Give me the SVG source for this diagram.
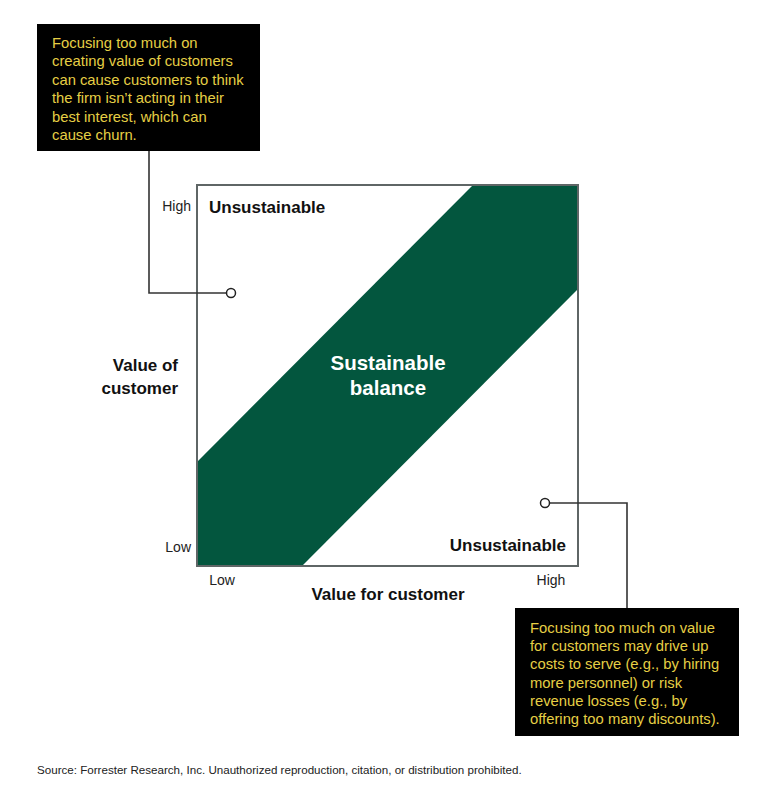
<svg xmlns="http://www.w3.org/2000/svg" width="775" height="800" viewBox="0 0 775 800">
<style>
text{font-family:"Liberation Sans",Arial,sans-serif;}
.note{fill:#E6CF45;font-size:14.8px;}
.axis{fill:#222;font-size:14px;}
.bold{fill:#111;font-weight:bold;}
.conn{fill:none;stroke:#333;stroke-width:1.6;}
.dot{fill:#fff;stroke:#222;stroke-width:1.5;}
</style>
<rect width="775" height="800" fill="#fff"/>
<g id="chart">
<rect x="197" y="185" width="381" height="381" fill="#fff"/>
<polygon points="197,462 473,185 578,185 578,289 302,566 197,566" fill="#03563E"/>
<rect x="197" y="185" width="381" height="381" fill="none" stroke="#5F6666" stroke-width="2"/>
</g>
<g id="band-label">
<text x="388" y="370" text-anchor="middle" font-size="20.5" font-weight="bold" fill="#fff">Sustainable</text>
<text x="388" y="395" text-anchor="middle" font-size="20.5" font-weight="bold" fill="#fff">balance</text>
</g>
<g id="unsustainable-top"><text class="bold" x="209" y="213" font-size="17">Unsustainable</text></g>
<g id="unsustainable-bottom"><text class="bold" x="566" y="551" font-size="17" text-anchor="end">Unsustainable</text></g>
<g id="y-axis">
<text class="axis" x="191" y="211" text-anchor="end">High</text>
<text class="axis" x="191" y="552" text-anchor="end">Low</text>
<text class="bold" x="178" y="371" font-size="17" text-anchor="end">Value of</text>
<text class="bold" x="178" y="394" font-size="17" text-anchor="end">customer</text>
</g>
<g id="x-axis">
<text class="axis" x="222" y="585" text-anchor="middle">Low</text>
<text class="axis" x="551" y="585" text-anchor="middle">High</text>
<text class="bold" x="388" y="600" font-size="17" text-anchor="middle">Value for customer</text>
</g>
<g id="connectors">
<polyline class="conn" points="149,151 149,293 226.5,293"/>
<polyline class="conn" points="549.5,503 627,503 627,608"/>
<circle class="dot" cx="231" cy="293" r="4.5"/>
<circle class="dot" cx="545" cy="503" r="4.5"/>
</g>
<g id="note-top">
<rect x="37" y="24" width="223" height="127" fill="#000"/>
<text class="note" x="52" y="48">Focusing too much on</text>
<text class="note" x="52" y="66.4">creating value of customers</text>
<text class="note" x="52" y="84.8">can cause customers to think</text>
<text class="note" x="52" y="103.2">the firm isn’t acting in their</text>
<text class="note" x="52" y="121.6">best interest, which can</text>
<text class="note" x="52" y="140">cause churn.</text>
</g>
<g id="note-bottom">
<rect x="515" y="608" width="224" height="128" fill="#000"/>
<text class="note" x="530" y="633">Focusing too much on value</text>
<text class="note" x="530" y="651.2">for customers may drive up</text>
<text class="note" x="530" y="669.4">costs to serve (e.g., by hiring</text>
<text class="note" x="530" y="687.6">more personnel) or risk</text>
<text class="note" x="530" y="705.8">revenue losses (e.g., by</text>
<text class="note" x="530" y="724">offering too many discounts).</text>
</g>
<g id="source">
<text x="37" y="774" font-size="11.6" fill="#222">Source: Forrester Research, Inc. Unauthorized reproduction, citation, or distribution prohibited.</text>
</g>
</svg>
